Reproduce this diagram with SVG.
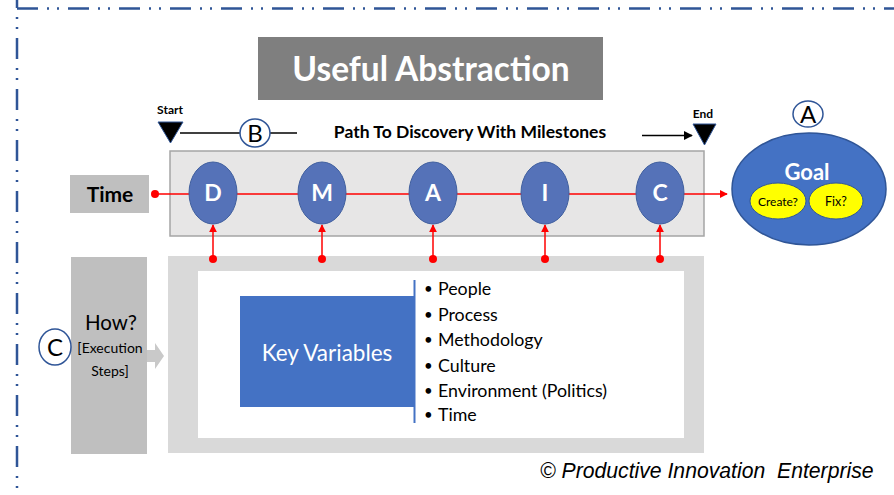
<svg xmlns="http://www.w3.org/2000/svg" width="894" height="495" viewBox="0 0 894 495">
<defs>
<style>
.border{stroke:#2F5597;stroke-width:2.5;stroke-dasharray:21 9 2 8 2 9;fill:none}
.os{font-family:Lato,"Open Sans","Liberation Sans",sans-serif}
.b{font-weight:bold}
.mile{fill:#5572B8;stroke:#41609F;stroke-width:1}
.mtxt{font-family:Lato,"Open Sans","Liberation Sans",sans-serif;font-weight:bold;font-size:23px;fill:#fff;text-anchor:middle}
.lbl{fill:#fff;stroke:#2F5597;stroke-width:1.5}
.ltxt{font-family:Lato,"Open Sans","Liberation Sans",sans-serif;font-size:24px;fill:#000;text-anchor:middle}
.red{stroke:#FF0000;stroke-width:1.5;fill:none}
.dot{fill:#FF0000}
.bul{font-family:Lato,"Open Sans","Liberation Sans",sans-serif;font-size:17.8px;fill:#000}
.bdot{font-family:Lato,"Open Sans","Liberation Sans",sans-serif;font-size:15px;fill:#000}
</style>
<marker id="rarrow" viewBox="0 0 10 10" refX="9" refY="5" markerWidth="8" markerHeight="8" markerUnits="userSpaceOnUse" orient="auto">
<path d="M0,0 L10,5 L0,10 z" fill="#FF0000"/>
</marker>
<marker id="barrow" viewBox="0 0 10 10" refX="9" refY="5" markerWidth="9" markerHeight="9" markerUnits="userSpaceOnUse" orient="auto">
<path d="M0,0 L10,5 L0,10 z" fill="#000"/>
</marker>
</defs>
<rect width="894" height="495" fill="#fff"/>

<g id="border">
<line class="border" x1="17" y1="8.5" x2="894" y2="8.5"/>
<line class="border" x1="17" y1="-13" x2="17" y2="495"/>
</g>

<g id="title">
<rect x="258" y="37" width="345" height="63" fill="#7F7F7F"/>
<text class="os b" x="431" y="80.5" font-size="33.5" fill="#fff" text-anchor="middle">Useful Abstraction</text>
</g>

<g id="start">
<text class="os b" x="170" y="114" font-size="12" text-anchor="middle">Start</text>
<polygon points="158,122 183,122 170.5,143" fill="#000" stroke="#2F5597" stroke-width="1"/>
</g>

<g id="end">
<text class="os b" x="703" y="118" font-size="12" text-anchor="middle">End</text>
<polygon points="693,124 716,124 704.5,145" fill="#000" stroke="#2F5597" stroke-width="1"/>
</g>

<g id="path-title">
<text class="os b" x="470" y="138" font-size="17.5" text-anchor="middle">Path To Discovery With Milestones</text>
</g>

<g id="timeline">
<rect x="170" y="151" width="534" height="85" fill="#E7E6E6" stroke="#A5A5A5" stroke-width="1.5"/>
</g>

<g id="time">
<rect x="70" y="175" width="79" height="38" fill="#BFBFBF"/>
<text class="os b" x="110" y="202" font-size="21" text-anchor="middle">Time</text>
</g>

<g id="how">
<rect x="71" y="257" width="76" height="197" fill="#BFBFBF"/>
<text class="os" x="111" y="330" font-size="20.5" text-anchor="middle">How?</text>
<text class="os" x="110" y="353" font-size="14" text-anchor="middle">[Execution</text>
<text class="os" x="110" y="376" font-size="14" text-anchor="middle">Steps]</text>
</g>

<g id="how-arrow">
<polygon points="147,350 155,350 155,343 164,356 155,369 155,362 147,362" fill="#C9C9C9"/>
</g>

<g id="frame">
<rect x="168" y="256" width="536" height="197" fill="#D9D9D9"/>
<rect x="198" y="271" width="486" height="167" fill="#fff"/>
</g>

<g id="key-variables">
<rect x="240" y="296" width="175" height="111" fill="#4472C4"/>
<text class="os" x="327" y="361" font-size="22.5" fill="#fff" text-anchor="middle">Key Variables</text>
<line x1="414.5" y1="280" x2="414.5" y2="423" stroke="#4472C4" stroke-width="2"/>
</g>

<g id="list">
<text class="bdot" x="424" y="294">•</text><text class="bul" x="438" y="295">People</text>
<text class="bdot" x="424" y="320">•</text><text class="bul" x="438" y="321">Process</text>
<text class="bdot" x="424" y="345">•</text><text class="bul" x="438" y="346">Methodology</text>
<text class="bdot" x="424" y="371">•</text><text class="bul" x="438" y="372">Culture</text>
<text class="bdot" x="424" y="396">•</text><text class="bul" x="438" y="397">Environment (Politics)</text>
<text class="bdot" x="424" y="420">•</text><text class="bul" x="438" y="421">Time</text>
</g>

<g id="connectors">
<line x1="180" y1="133" x2="297" y2="133" stroke="#000" stroke-width="1.5"/>
<line x1="642" y1="135.5" x2="692" y2="135.5" stroke="#000" stroke-width="1.5" marker-end="url(#barrow)"/>
<line class="red" x1="155" y1="194" x2="727" y2="194" marker-end="url(#rarrow)"/>
<circle class="dot" cx="155" cy="194" r="4"/>
<line class="red" x1="213" y1="259" x2="213" y2="225" marker-end="url(#rarrow)"/>
<line class="red" x1="322" y1="259" x2="322" y2="225" marker-end="url(#rarrow)"/>
<line class="red" x1="433" y1="259" x2="433" y2="225" marker-end="url(#rarrow)"/>
<line class="red" x1="545" y1="259" x2="545" y2="225" marker-end="url(#rarrow)"/>
<line class="red" x1="660" y1="259" x2="660" y2="225" marker-end="url(#rarrow)"/>
<circle class="dot" cx="213" cy="259" r="4"/>
<circle class="dot" cx="322" cy="259" r="4"/>
<circle class="dot" cx="433" cy="259" r="4"/>
<circle class="dot" cx="545" cy="259" r="4"/>
<circle class="dot" cx="660" cy="259" r="4"/>
</g>

<g id="m-D"><ellipse class="mile" cx="213" cy="193" rx="24" ry="31"/><text class="mtxt" x="213" y="201">D</text></g>
<g id="m-M"><ellipse class="mile" cx="322" cy="193" rx="24" ry="31"/><text class="mtxt" x="322" y="201">M</text></g>
<g id="m-A"><ellipse class="mile" cx="433" cy="193" rx="24" ry="31"/><text class="mtxt" x="433" y="201">A</text></g>
<g id="m-I"><ellipse class="mile" cx="545" cy="193" rx="24" ry="31"/><text class="mtxt" x="545" y="201">I</text></g>
<g id="m-C"><ellipse class="mile" cx="660" cy="193" rx="24" ry="31"/><text class="mtxt" x="660" y="201">C</text></g>

<g id="goal">
<ellipse cx="809" cy="189" rx="77" ry="56" fill="#4472C4" stroke="#2F5597" stroke-width="1.5"/>
<text class="os b" x="807" y="180" font-size="22" fill="#fff" text-anchor="middle">Goal</text>
<ellipse cx="778" cy="201" rx="28" ry="18" fill="#FFFF00" stroke="#2F5597" stroke-width="1"/>
<text class="os" x="778" y="206" font-size="12" text-anchor="middle">Create?</text>
<ellipse cx="836" cy="201" rx="27" ry="18" fill="#FFFF00" stroke="#2F5597" stroke-width="1"/>
<text class="os" x="836" y="206" font-size="12.5" text-anchor="middle">Fix?</text>
</g>

<g id="label-A"><ellipse class="lbl" cx="808" cy="114" rx="15" ry="13"/><text class="ltxt" x="808" y="122.5">A</text></g>
<g id="label-B"><ellipse class="lbl" cx="255" cy="133" rx="15" ry="14"/><text class="ltxt" x="255" y="141.5">B</text></g>
<g id="label-C"><ellipse class="lbl" cx="55" cy="347" rx="16" ry="18"/><text class="ltxt" x="55" y="355.5">C</text></g>

<g id="copyright">
<text x="540" y="478" font-family="Liberation Sans, Arial, sans-serif" font-style="italic" font-size="21.2" fill="#000">© Productive Innovation&#160; Enterprise</text>
</g>
</svg>
